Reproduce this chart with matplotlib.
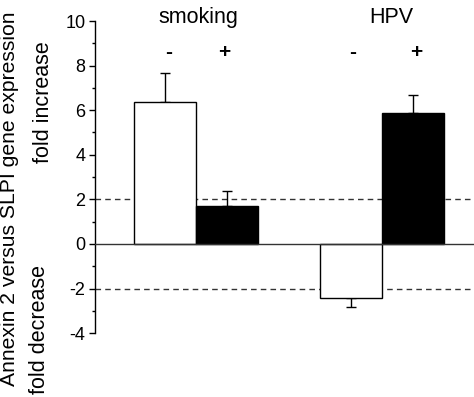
import numpy as np
import matplotlib.pyplot as plt
from matplotlib.ticker import MultipleLocator

plt.rcParams['font.family'] = ['Liberation Sans', 'DejaVu Sans']
plt.rcParams['axes.unicode_minus'] = False

# values
groups = ["smoking", "HPV"]
conditions = ["-", "+", "-", "+"]
fold = [6.35, 1.70, -2.41, 5.86]
err = [1.33, 0.67, 0.40, 0.82]
colors = ["white", "black", "white", "black"]
pos = [1, 2, 4, 5]

fig = plt.figure(figsize=(4.74, 3.97), dpi=100)
ax = fig.add_axes([0.2004, 0.161, 0.7996, 0.786])

ax.bar(pos, fold, width=1.0, color=colors, edgecolor="black", linewidth=1.0, zorder=3)

# only the outward half of each error bar
up = [e if v > 0 else 0 for v, e in zip(fold, err)]
down = [e if v < 0 else 0 for v, e in zip(fold, err)]
ax.errorbar(pos, fold, yerr=[down, up], fmt="none", ecolor="black",
            elinewidth=1.0, capsize=3.5, capthick=1.0, zorder=2)

ax.axhline(0, color="#333333", lw=1.0, zorder=4)
ax.axhline(2, color="#333333", lw=1.0, ls=(0, (4, 3)), zorder=1)
ax.axhline(-2, color="#333333", lw=1.0, ls=(0, (4, 3)), zorder=1)

ax.set_xlim(-0.13, 5.98)
ax.set_ylim(-4, 10)
ax.yaxis.set_major_locator(MultipleLocator(2))
ax.yaxis.set_minor_locator(MultipleLocator(1))
ax.tick_params(axis="y", which="major", length=4, width=1, pad=3, labelsize=13)
ax.tick_params(axis="y", which="minor", length=2.5, width=1)
ax.set_xticks([])
for s in ["top", "right", "bottom"]:
    ax.spines[s].set_visible(False)
ax.spines["left"].set_linewidth(1.0)

# group and condition labels
ax.text(1.54, 9.9, groups[0], ha="center", va="baseline", fontsize=15.5)
ax.text(4.64, 9.9, groups[1], ha="center", va="baseline", fontsize=15.5)
for x, c in zip([1.06, 1.95, 4.02, 5.05], conditions):
    ax.text(x, 8.6, c, ha="center", va="center", fontsize=15, fontweight="bold")

fig.text(0.021, 0.5, "Annexin 2 versus SLPI gene expression", rotation=90,
         ha="center", va="center", fontsize=15.2)
fig.text(0.091, 0.742, "fold increase", rotation=90, ha="center", va="center", fontsize=15.5)
fig.text(0.084, 0.17, "fold decrease", rotation=90, ha="center", va="center", fontsize=15.5)

fig.savefig("out.png", dpi=100)
